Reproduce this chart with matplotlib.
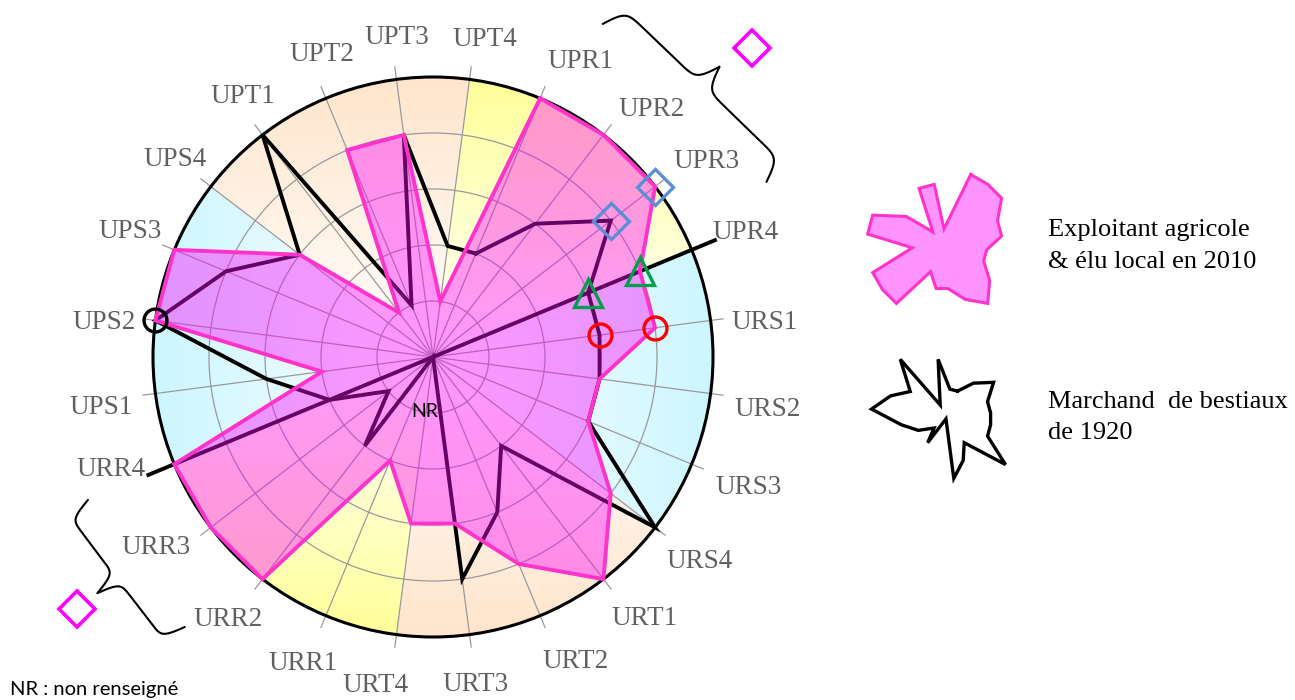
import numpy as np
import matplotlib.pyplot as plt
from matplotlib.patches import Circle, Polygon

# spokes, clockwise from UPR1 (top right)
categories = ['UPR1', 'UPR2', 'UPR3', 'UPR4', 'URS1', 'URS2', 'URS3', 'URS4',
              'URT1', 'URT2', 'URT3', 'URT4', 'URR1', 'URR2', 'URR3', 'URR4',
              'UPS1', 'UPS2', 'UPS3', 'UPS4', 'UPT1', 'UPT2', 'UPT3', 'UPT4']
exploitant_2010 = [5, 5, 5, 4, 4, 3, 3, 4, 5, 4, 3, 3, 2, 5, 5, 5, 2, 5, 5, 3, 1, 4, 4, 1]
marchand_1920 = [2, 3, 4, 3, 3, 3, 3, 5, 2, 3, 4, 0, 0, 2, 1, 2, 3, 5, 4, 3, 5, 1, 4, 2]
series_labels = ['Exploitant agricole\n& élu local en 2010', 'Marchand  de bestiaux\nde 1920']
vmax = 5

# coloured bands, counter-clockwise, each one starts on a spoke
band_spokes = ['UPR4', 'UPT4', 'UPS4', 'URR4', 'URT4', 'URS4']
band_colors = ['#FFFF99', '#FFE5CC', '#CCF6FF', '#FFFF99', '#FFE5CC', '#CCF6FF']
band_dirs = [(0, 1), (0, 1), (-1, 0), (0, -1), (0, -1), (1, 0)]

# highlighted spokes: both series values get a marker
highlights = [('UPR3', 'D', '#5B8FD5', 18.5), ('UPR4', '^', '#00A04A', 20),
              ('URS1', 'o', 'red', 16.5), ('UPS2', 'o', 'black', 16.5)]

# label placement: (angle shift in degrees, radius in units of the outer circle)
label_pos = {
    'UPR1': (-4.0, 1.18), 'UPR2': (-3.9, 1.18), 'UPR3': (-2.0, 1.20), 'UPR4': (-0.8, 1.20),
    'URS1': (-1.5, 1.19), 'URS2': (-1.5, 1.21), 'URS3': (0.0, 1.22), 'URS4': (0.0, 1.20),
    'URT1': (1.5, 1.20), 'URT2': (2.6, 1.20), 'URT3': (-0.2, 1.18), 'URT4': (-2.5, 1.19),
    'URR1': (-0.5, 1.19), 'URR2': (-0.5, 1.19), 'URR3': (-3.0, 1.20), 'URR4': (-3.2, 1.22),
    'UPS1': (1.2, 1.20), 'UPS2': (1.5, 1.18), 'UPS3': (0.0, 1.17), 'UPS4': (0.0, 1.16),
    'UPT1': (-1.4, 1.15), 'UPT2': (-2.3, 1.15), 'UPT3': (-1.1, 1.15), 'UPT4': (-1.8, 1.15),
}

n = len(categories)
step = 360.0 / n
ang = np.deg2rad(90 - 1.5 * step - step * np.arange(n))
idx = {c: i for i, c in enumerate(categories)}


def polar_xy(r, a_deg):
    a = np.deg2rad(a_deg)
    return r * np.cos(a), r * np.sin(a)


def series_xy(values, scale=1.0, cx=0.0, cy=0.0):
    r = np.asarray(values, float) / vmax * scale
    x = cx + r * np.cos(ang)
    y = cy + r * np.sin(ang)
    return np.append(x, x[0]), np.append(y, y[0])


def curly_brace(ax, p1, p2, h, lw=1.5):
    p1 = np.asarray(p1)
    p2 = np.asarray(p2)
    d = p2 - p1
    L = np.hypot(*d)
    u = d / L
    nrm = np.array([-u[1], u[0]])
    if np.dot(nrm, (p1 + p2) / 2) < 0:
        nrm = -nrm
    b = 55.0 / L
    t = np.linspace(0, L / 2, 300)
    yh = 1 / (1 + np.exp(-b * t)) + 1 / (1 + np.exp(-b * (t - L / 2)))
    tt = np.concatenate([t, L - t[::-1]])
    yy = np.concatenate([yh, yh[::-1]]) - 0.5
    pts = p1 + np.outer(tt, u) + np.outer(yy * h, nrm)
    ax.plot(pts[:, 0], pts[:, 1], color='black', lw=lw, solid_capstyle='round')


fig = plt.figure(figsize=(12.95, 7), dpi=100)
ax = fig.add_axes([0, 0, 1, 1])
R_px = 280.0
ax.set_xlim(-433 / R_px, (1295 - 433) / R_px)
ax.set_ylim(-(700 - 357) / R_px, 357 / R_px)
ax.axis('off')

# background bands with a light gradient
N = 900
g = np.linspace(-1, 1, N)
X, Y = np.meshgrid(g, g)
theta = np.degrees(np.arctan2(Y, X)) % 360
start = np.degrees(ang[idx[band_spokes[0]]]) % 360
band = (((theta - start) % 360) // 60).astype(int) % len(band_spokes)
img = np.ones((N, N, 3))
for k, (col, dv) in enumerate(zip(band_colors, band_dirs)):
    rgb = np.array(plt.matplotlib.colors.to_rgb(col))
    t = np.clip(X * dv[0] + Y * dv[1], 0, 1)
    m = band == k
    img[m] = 1 - t[m][:, None] * (1 - rgb)
clip = Circle((0, 0), 1, transform=ax.transData)
im = ax.imshow(img, extent=(-1, 1, -1, 1), origin='lower', zorder=0,
               interpolation='bilinear')
im.set_clip_path(clip)

# grid
for k in range(1, vmax):
    ax.add_patch(Circle((0, 0), k / vmax, fill=False, ec='#9a9a9a', lw=0.9, zorder=1))
for a in ang:
    ax.plot([0, 1.045 * np.cos(a)], [0, 1.045 * np.sin(a)], color='#9a9a9a', lw=0.9, zorder=1)

# labels
for c, a in zip(categories, ang):
    da, rl = label_pos[c]
    x, y = polar_xy(rl, np.degrees(a) + da)
    ax.text(x, y, c, ha='center', va='center', fontsize=19.5, color='#606060',
            family='Liberation Serif')

# 1920 series (under the fill)
bx, by = series_xy(marchand_1920)
ax.plot(bx, by, color='black', lw=2.8, zorder=3, solid_joinstyle='miter')
a4 = ang[idx['UPR4']]
ax.plot([-1.10 * np.cos(a4), 1.09 * np.cos(a4)], [-1.10 * np.sin(a4), 1.09 * np.sin(a4)],
        color='black', lw=2.8, zorder=3)

# 2010 series
px, py = series_xy(exploitant_2010)
ax.add_patch(Polygon(np.column_stack([px, py]), closed=True, fc='#FF00FF', alpha=0.4,
                     ec='none', zorder=4))
ax.add_patch(Circle((0, 0), 1, fill=False, ec='black', lw=2.2, zorder=5))
ax.plot(px, py, color='#FF33CC', lw=2.8, zorder=6, solid_joinstyle='miter')

# highlight markers
for c, mk, col, ms in highlights:
    i = idx[c]
    vals = sorted(set([exploitant_2010[i], marchand_1920[i]]))
    r = np.array(vals) / vmax
    ax.plot(r * np.cos(ang[i]), r * np.sin(ang[i]), ls='none', marker=mk, ms=ms,
            mfc='none', mec=col, mew=2.4, zorder=7)

ax.text(*polar_xy(0.195, np.degrees(ang[idx['URT4']]) - 1), 'NR', ha='center', va='center',
        fontsize=14, color='black', family='Lato', zorder=8)

# braces and magenta diamonds
curly_brace(ax, polar_xy(1.335, 63), polar_xy(1.345, 27.7), 0.18)
curly_brace(ax, polar_xy(1.334, 202.5), polar_xy(1.31, 227.4), 0.175)
for r, a in [(1.586, 44.1), (1.557, 215.3)]:
    ax.plot(*polar_xy(r, a), marker='D', ms=18, mfc='none', mec='#FF00FF', mew=2.6)

# legend: miniature shapes
lx, ly = series_xy(exploitant_2010, 0.268, 1.818, 0.404)
ax.add_patch(Polygon(np.column_stack([lx, ly]), closed=True, fc='#FF00FF', alpha=0.42,
                     ec='none'))
ax.plot(lx, ly, color='#FF33CC', lw=2.2, solid_joinstyle='miter')
kx, ky = series_xy(marchand_1920, 0.268, 1.832, -0.221)
ax.plot(kx, ky, color='black', lw=2.4, solid_joinstyle='miter')
ax.text(2.196, 0.396, series_labels[0], ha='left', va='center', fontsize=19,
        family='Liberation Serif', linespacing=1.55)
ax.text(2.196, -0.216, series_labels[1], ha='left', va='center', fontsize=19,
        family='Liberation Serif', linespacing=1.55)

fig.text(10 / 1295, 11 / 700, 'NR : non renseigné', ha='left', va='center',
         fontsize=14.5, family='Lato')

fig.savefig('out.png', dpi=100)
